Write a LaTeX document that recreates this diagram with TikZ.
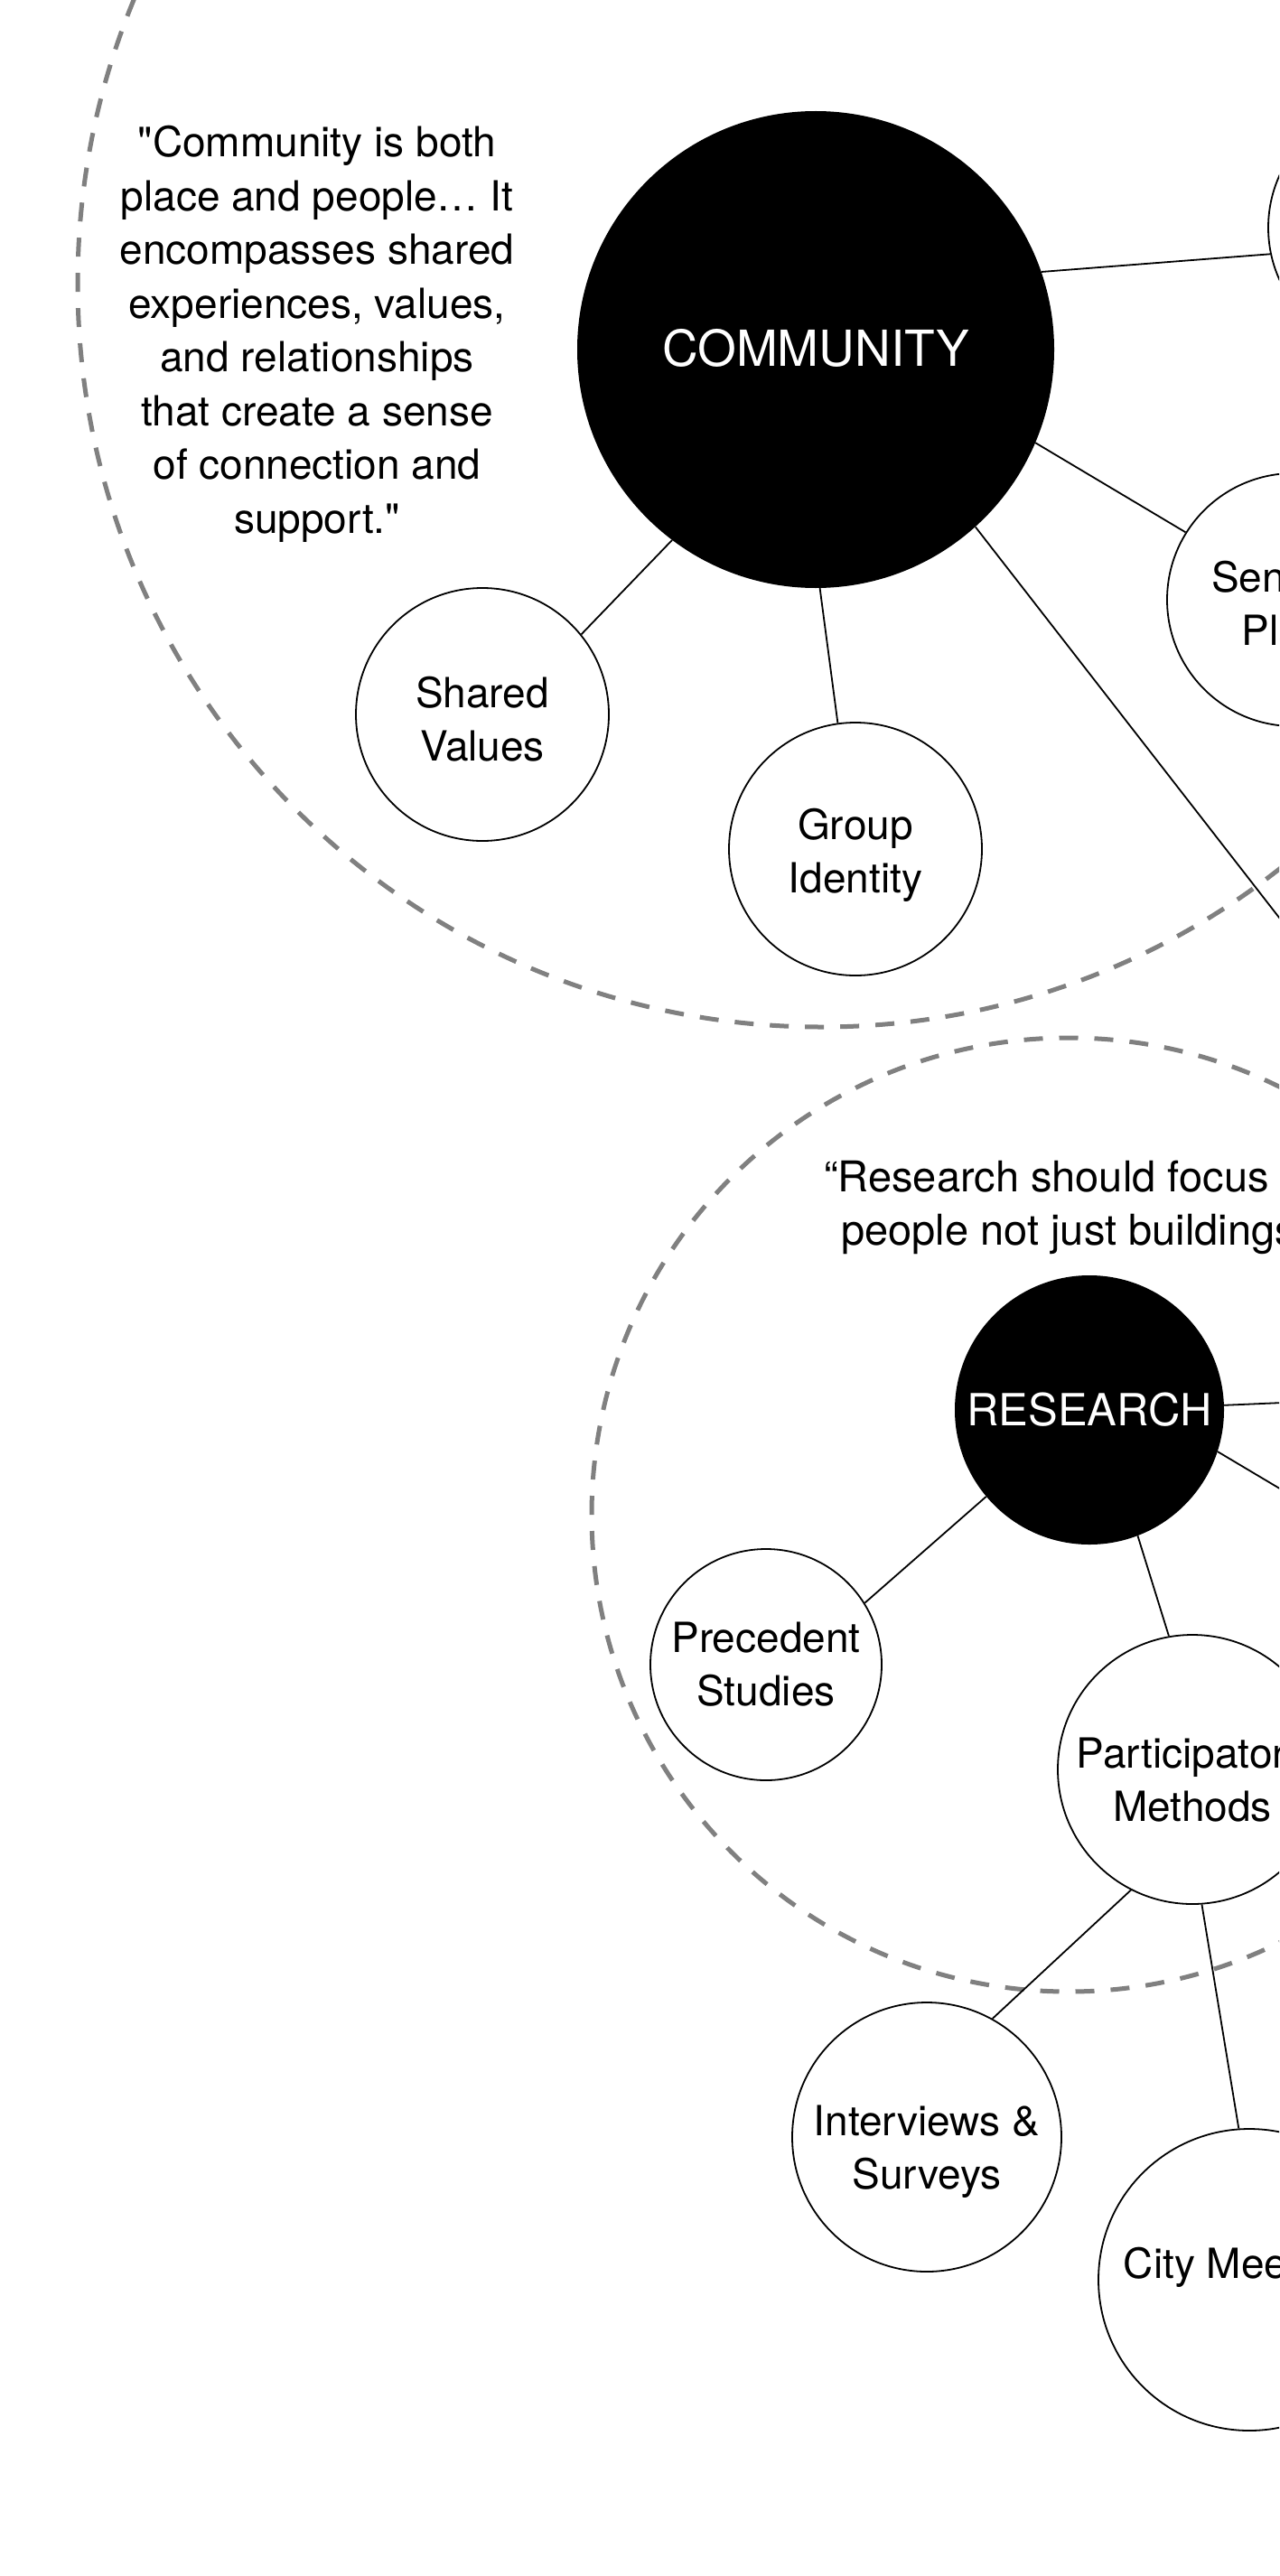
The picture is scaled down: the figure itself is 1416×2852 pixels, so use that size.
\documentclass[tikz,border=0pt]{standalone}
\usepackage{fontspec}
\setmainfont{TeX Gyre Heros}
\definecolor{ringgray}{RGB}{128,128,128}
\newcommand{\lift}[1]{\rule{0pt}{#1}}
\begin{document}
\begin{tikzpicture}[x=1pt,y=-1pt,
  bub/.style={circle, draw=black, line width=1.8pt, fill=white, inner sep=0pt,
    align=center, text=black, font=\fontsize{46}{59}\selectfont},
  hub/.style={circle, fill=black, draw=none, inner sep=0pt, text=white},
  conn/.style={draw=black, line width=1.8pt},
  ring/.style={draw=ringgray, line width=5pt, dash pattern=on 21pt off 18pt},
  quotetext/.style={align=center, inner sep=0pt, text=black, font=\fontsize{46}{59.5}\selectfont}]
\useasboundingbox (0,0) rectangle (1416,2852);
\fill[white] (0,0) rectangle (1416,2852);
\clip (0,0) rectangle (1416,2852);

% dashed group rings
\draw[ring] (909,314) circle[radius=823pt];
\draw[ring] (1183,1677) circle[radius=528pt];

% quotes
\node[quotetext] (q1) at (351,370) {\textquotedbl Community is both\\place and people… It\\encompasses shared\\experiences, values,\\and relationships\\that create a sense\\of connection and\\support.\textquotedbl};
\node[quotetext, font=\fontsize{47}{59.5}\selectfont] (q2) at (1191,1337) {“Research should focus on\\people not just buildings”};

% hubs
\node[hub, minimum size=528pt, font=\fontsize{55}{66}\selectfont] (comm) at (903,387) {\raisebox{4pt}{COMMUNITY}};
\node[hub, minimum size=298pt, font=\fontsize{49}{60}\selectfont] (res) at (1206,1561) {RESEARCH};

% community bubbles
\node[bub, minimum size=280pt] (sv) at (534,791) {\lift{45pt}Shared\\Values};
\node[bub, minimum size=280pt] (gi) at (947,940) {\lift{48pt}Group\\Identity};
\node[bub, minimum size=280pt] (sop) at (1432,664) {\lift{43pt}Sense of\\Place};
\node[bub, minimum size=280pt] (tr) at (1544,252) {};

% research bubbles
\node[bub, minimum size=256pt] (ps) at (848,1843) {Precedent\\Studies};
\node[bub, minimum size=298pt] (pm) at (1320,1959) {\lift{56pt}Participatory\\Methods};
\node[bub, minimum size=298pt] (is) at (1026,2366) {\lift{66pt}Interviews \&\\Surveys};
\node[bub, minimum size=334pt, text height=34pt, text depth=38pt] (cm) at (1383,2524) {City Meetings};

% free ends beyond the right edge
\coordinate (off1) at (1420,1021);
\coordinate (off2) at (1420,1553);
\coordinate (off3) at (1420,1650);

% connectors
\draw[conn] (comm.19.5) -- (tr.192.7);
\draw[conn] (comm.337.9) -- (sop.148.7);
\draw[conn] (comm.233.9) -- (sv.39);
\draw[conn] (comm.271.7) -- (gi.98.5);
\draw[conn] (comm.312.3) -- (off1);
\draw[conn] (res.2.7) -- (off2);
\draw[conn] (res.342.2) -- (off3);
\draw[conn] (res.220.7) -- (ps.32.1);
\draw[conn] (res.291.7) -- (pm.100.5);
\draw[conn] (pm.243.1) -- (is.61.2);
\draw[conn] (pm.274.2) -- (cm.94.5);
\end{tikzpicture}
\end{document}
